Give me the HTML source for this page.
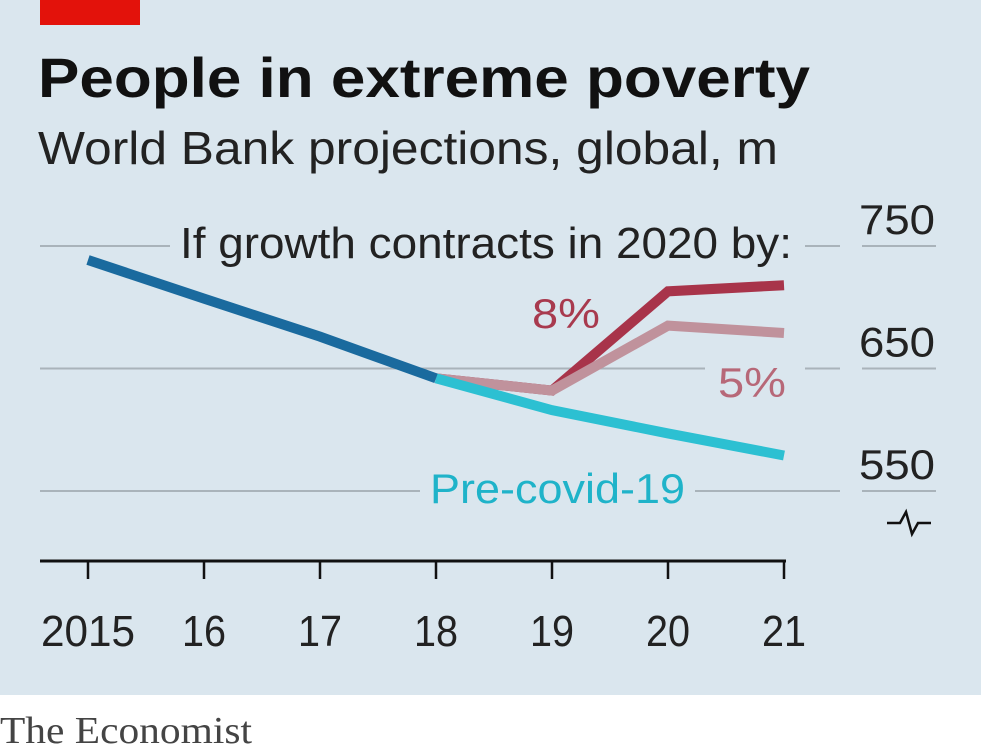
<!DOCTYPE html>
<html><head><meta charset="utf-8"><style>
html,body{margin:0;padding:0;width:981px;height:750px;overflow:hidden;background:#fff}
svg{display:block}
text{font-family:"Liberation Sans",sans-serif}
</style></head><body>
<svg width="981" height="750" viewBox="0 0 981 750">
<rect x="0" y="0" width="981" height="695" fill="#dae6ee"/>
<rect x="40" y="0" width="100" height="25" fill="#e3120b"/>
<text x="38" y="97" font-size="56" font-weight="bold" fill="#111" textLength="772" lengthAdjust="spacingAndGlyphs">People in extreme poverty</text>
<text x="38" y="164" font-size="46" fill="#222" textLength="740" lengthAdjust="spacingAndGlyphs">World Bank projections, global, m</text>
<g id="grid"></g>
<g id="axis"></g>
<g id="lines"></g>
<text x="180" y="258" font-size="44" fill="#222" textLength="612" lengthAdjust="spacingAndGlyphs">If growth contracts in 2020 by:</text>
<text x="532" y="328" font-size="42" fill="#a83a4e" textLength="68" lengthAdjust="spacingAndGlyphs">8%</text>
<text x="718" y="397" font-size="42" fill="#b76878" textLength="68" lengthAdjust="spacingAndGlyphs">5%</text>
<text x="430" y="503" font-size="42" fill="#1fb3c9" textLength="255" lengthAdjust="spacingAndGlyphs">Pre-covid-19</text>
<path d="M887 523 L900 523 L906 512 L912 534 L918 523 L931 523" stroke="#111" stroke-width="2.5" fill="none"/>
<text x="0" y="743" font-size="38" fill="#444" textLength="252" lengthAdjust="spacingAndGlyphs" style="font-family:'Liberation Serif',serif">The Economist</text>
</svg>
<script>
const years=['2015','16','17','18','19','20','21'];
const yTicks=[550,650,750];
const history=[738.6,707,676,642];
const preCovid=[642,616,597,579];
const contract5=[642,632,685,679];
const contract8=[642,632,713,718];
const NS='http://www.w3.org/2000/svg';
function X(i){return 88+i*116;}
function Y(v){return 491-(v-550)*1.225;}
function mk(tag,attrs,parent){const e=document.createElementNS(NS,tag);for(const k in attrs)e.setAttribute(k,attrs[k]);parent.appendChild(e);return e;}
const grid=document.getElementById('grid');
const gaps={550:[[40,420],[695,840],[862,936]],650:[[40,705],[805,840],[862,936]],750:[[40,170],[805,840],[862,936]]};
yTicks.forEach(v=>{
  gaps[v].forEach(s=>{const l=mk('line',{x1:s[0],x2:s[1],y1:Y(v),y2:Y(v),stroke:'#a9b3ba','stroke-width':2},grid);
  
  });
  const t=mk('text',{x:935,y:Y(v)-12,'font-size':42,fill:'#222','text-anchor':'end',textLength:76,lengthAdjust:'spacingAndGlyphs'},grid);
  t.textContent=v;
  
  
});
const ax=document.getElementById('axis');
const base=mk('line',{x1:40,x2:786,y1:561,y2:561,stroke:'#111','stroke-width':3},ax);


years.forEach((y,i)=>{
  const tk=mk('line',{x1:X(i),x2:X(i),y1:561,y2:579,stroke:'#111','stroke-width':2.5},ax);
  
  
  const t=mk('text',{x:X(i),y:646,'font-size':44,fill:'#222','text-anchor':'middle'},ax);
  t.setAttribute('textLength',i===0?94:44);
  t.setAttribute('lengthAdjust','spacingAndGlyphs');
  t.textContent=y;
  
  
});
const L=document.getElementById('lines');
function line(vals,start,color,name){
  const p=vals.map((v,i)=>X(i+start)+','+Y(v)).join(' ');
  const e=mk('polyline',{points:p,fill:'none',stroke:color,'stroke-width':10,'stroke-linejoin':'miter'},L);
  
  
}
line(contract8,3,'#a8344a','line-8pct');
line(contract5,3,'#c0929c','line-5pct');
line(preCovid,3,'#2cc0d2','line-pre-covid');
line(history,0,'#1a6a9e','line-history');
</script>
</body></html>
